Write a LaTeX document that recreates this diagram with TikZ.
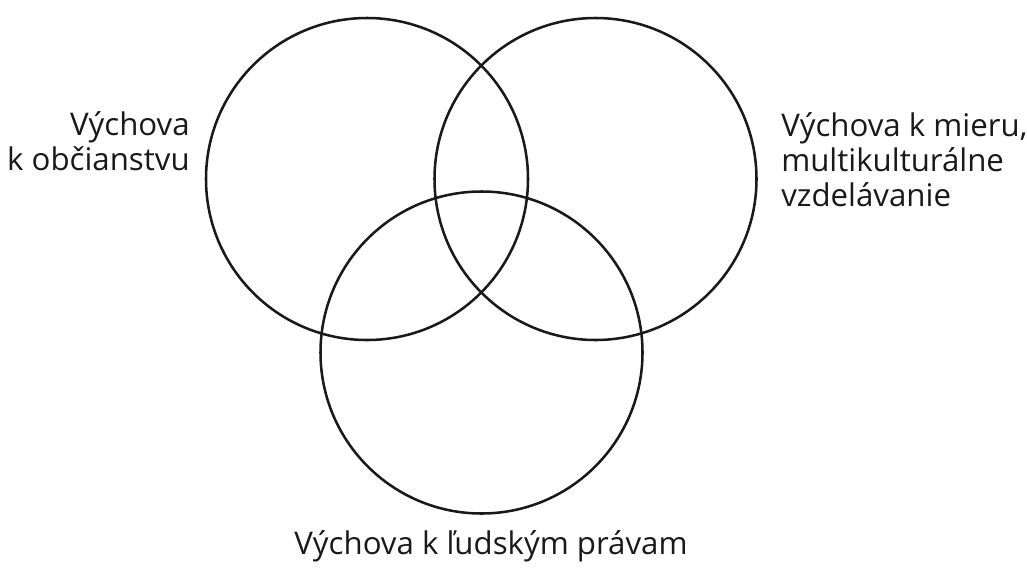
\documentclass[tikz,border=0pt]{standalone}
\usepackage{fontspec}
\setmainfont{Open Sans}
\usetikzlibrary{positioning}

\begin{document}
\begin{tikzpicture}[x=0.025cm,y=-0.025cm,
      ring/.style={draw=black!90,line width=1.8pt,circle,minimum size=322*0.025cm,inner sep=0pt},
      lbl/.style={font={\fontsize{22.2}{24.6}\selectfont},inner sep=0pt,text=black!90}]
      \useasboundingbox (0,0) rectangle (1027,574);
      \node[ring] (obc) at (367,179) {};
      \node[ring] (mier) at (595.5,179) {};
      \node[ring] (prava) at (481.5,352.5) {};
      \node[lbl,align=right,anchor=base east] (tobc) at (190,170) {Výchova\\k občianstvu};
      \node[lbl,align=left,anchor=base west] (tmier) at (781,206) {Výchova k mieru,\\multikulturálne\\vzdelávanie};
      \node[lbl,anchor=base] (tprava) at (491,554) {Výchova k ľudským právam};
    \end{tikzpicture}
\end{document}
